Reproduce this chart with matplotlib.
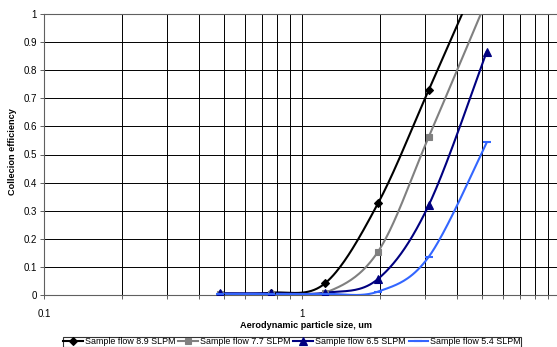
import numpy as np
import matplotlib
matplotlib.use("Agg")
import matplotlib.pyplot as plt
from matplotlib.lines import Line2D
from matplotlib.ticker import FixedLocator, NullFormatter, FixedFormatter

plt.rcParams['font.family'] = ['Liberation Sans', 'DejaVu Sans']

# ---- data ----
sizes = [0.48, 0.76, 1.23, 1.97, 3.1, 5.2]
flow_8_9 = [0.005, 0.008, 0.042, 0.326, 0.73, 1.2]
flow_7_7 = [0.003, 0.003, 0.008, 0.154, 0.563, 1.05]
flow_6_5 = [0.006, 0.006, 0.008, 0.057, 0.32, 0.866]
flow_5_4 = [0.004, 0.004, 0.004, 0.012, 0.136, 0.543]
labels = ["Sample flow 8.9 SLPM", "Sample flow 7.7 SLPM",
          "Sample flow 6.5 SLPM", "Sample flow 5.4 SLPM"]
y_ticks = [0, 0.1, 0.2, 0.3, 0.4, 0.5, 0.6, 0.7, 0.8, 0.9, 1]
y_tick_labels = ["0", "0.1", "0.2", "0.3", "0.4", "0.5", "0.6", "0.7", "0.8", "0.9", "1"]
x_ticks = [0.1, 1]
x_tick_labels = ["0.1", "1"]


def smooth(xs, ys, n=40):
    """Catmull-Rom (Excel-like) smoothing in (log x, y) space."""
    lx = np.log10(np.asarray(xs, float))
    y = np.asarray(ys, float)
    P = np.column_stack([lx, y])
    P = np.vstack([P[0], P, P[-1]])
    out = []
    for i in range(1, len(P) - 2):
        p0, p1, p2, p3 = P[i - 1], P[i], P[i + 1], P[i + 2]
        c1 = p1 + (p2 - p0) / 6.0
        c2 = p2 - (p3 - p1) / 6.0
        t = np.linspace(0, 1, n)[:, None]
        seg = ((1 - t) ** 3) * p1 + 3 * ((1 - t) ** 2) * t * c1 + 3 * (1 - t) * t ** 2 * c2 + t ** 3 * p2
        out.append(seg if i == 1 else seg[1:])
    out = np.vstack(out)
    return 10 ** out[:, 0], out[:, 1]


W, H = 557, 347
fig = plt.figure(figsize=(W / 100, H / 100), dpi=100)
ax = fig.add_axes([44 / W, 1 - 295 / H, 516 / W, 281 / H])
ax.set_xscale('log')
ax.set_xlim(0.1, 10)
ax.set_ylim(0, 1)

series = [
    (flow_8_9, 'black', 'D', 4.5),
    (flow_7_7, '#808080', 's', 5),
    (flow_6_5, '#000080', '^', 6),
    (flow_5_4, '#3366FF', '_', 6),
]
handles = []
for (vals, col, mk, ms), lab in zip(series, labels):
    sx, sy = smooth(sizes, vals)
    ax.plot(sx, sy, color=col, lw=1.5, zorder=3)
    ax.plot(sizes, vals, linestyle='none', marker=mk, color=col, ms=ms,
            mew=1.5 if mk == '_' else 0.8, zorder=4)
    handles.append(Line2D([], [], color=col, lw=1.5, marker=mk, ms=ms,
                          mew=1.5 if mk == '_' else 0.8))

ax.yaxis.set_major_locator(FixedLocator(y_ticks))
ax.yaxis.set_major_formatter(FixedFormatter(y_tick_labels))
ax.xaxis.set_major_locator(FixedLocator(x_ticks))
ax.xaxis.set_major_formatter(FixedFormatter(x_tick_labels))
minor = [m * d for d in (0.1, 1) for m in range(2, 10)] + [10]
ax.xaxis.set_minor_locator(FixedLocator(minor))
ax.xaxis.set_minor_formatter(NullFormatter())

ax.grid(which='both', color='black', lw=0.7, zorder=1)
ax.set_axisbelow(True)
for s in ax.spines.values():
    s.set_color('#606060')
    s.set_linewidth(0.8)

ax.tick_params(axis='both', which='both', direction='out', length=3,
               width=0.7, color='#606060', labelsize=7, labelcolor='black')
ax.tick_params(axis='x', pad=7)
ax.tick_params(axis='y', pad=2)

fig.text(306 / W, 1 - 326 / H, "Aerodynamic particle size, um", ha='center', va='center',
         fontsize=6.6, fontweight='bold')
fig.text(13 / W, 1 - 152 / H, "Collecion efficiency", ha='center', va='center',
         rotation=90, fontsize=6.6, fontweight='bold')

leg = fig.legend(handles, labels, loc='upper left', bbox_to_anchor=(63 / W, 1 - 337 / H),
                 ncol=4, fontsize=6.4, frameon=True, fancybox=False, edgecolor='black',
                 handlelength=2.2, handletextpad=0.2, columnspacing=0.35,
                 borderpad=0.05, borderaxespad=0)
leg.get_frame().set_linewidth(0.8)

fig.savefig("out.png", dpi=100)
